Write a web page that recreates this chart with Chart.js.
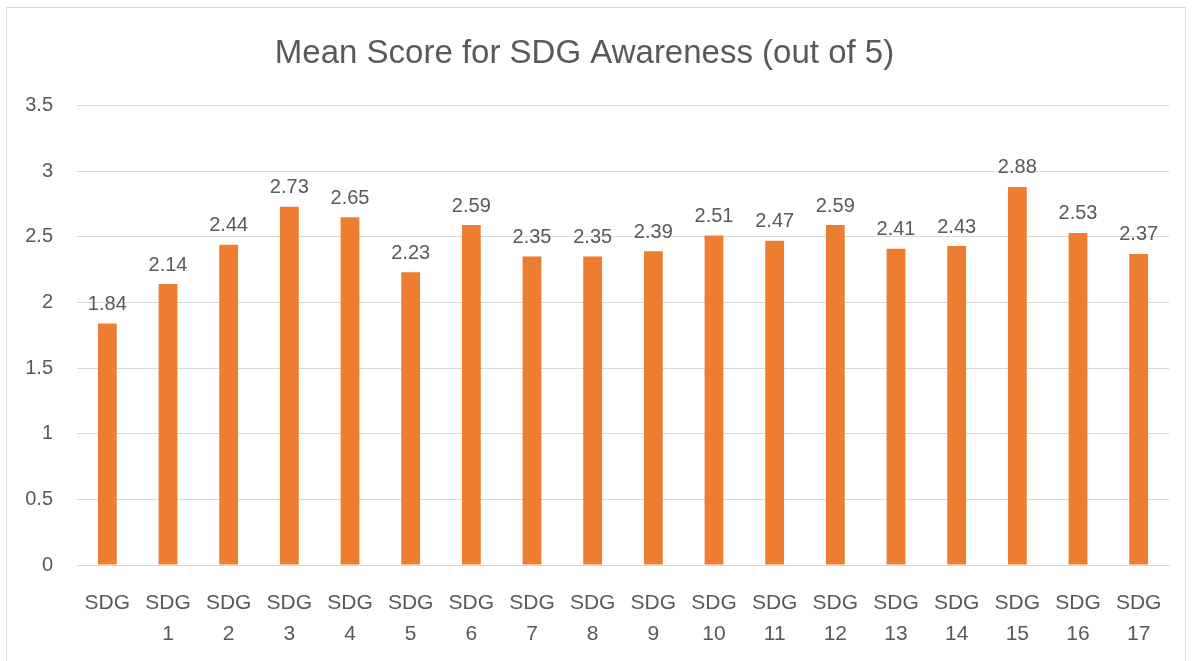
<!DOCTYPE html>
<html lang="en">
<head>
<meta charset="UTF-8">
<title>Mean Score for SDG Awareness</title>
<script src="https://cdn.jsdelivr.net/npm/chart.js"></script>
<style>
    body { margin: 0; background: #fff; }
    .frame {
        position: absolute; left: 6px; top: 7px; width: 1180px; height: 670px;
        border: 1px solid #d9d9d9; box-sizing: border-box;
    }
    #myChart { position: absolute; left: 0; top: 0; }
</style>
</head>
<body>
<div class="frame"></div>
<canvas id="myChart" width="1192" height="661"></canvas>

<script>
    // dados
    const categorias = ['SDG', 'SDG 1', 'SDG 2', 'SDG 3', 'SDG 4', 'SDG 5', 'SDG 6', 'SDG 7', 'SDG 8',
        'SDG 9', 'SDG 10', 'SDG 11', 'SDG 12', 'SDG 13', 'SDG 14', 'SDG 15', 'SDG 16', 'SDG 17'];
    const medias = [1.84, 2.14, 2.44, 2.73, 2.65, 2.23, 2.59, 2.35, 2.35, 2.39, 2.51, 2.47, 2.59, 2.41, 2.43, 2.88, 2.53, 2.37];
    const yTicks = [0, 0.5, 1, 1.5, 2, 2.5, 3, 3.5];

    const cinza = '#595959';
    const fonte = '"Liberation Sans", Arial, sans-serif';

    // escreve o valor em cima de cada barra
    const valoresNasBarras = {
        id: 'valoresNasBarras',
        afterDatasetsDraw(chart) {
            const ctx = chart.ctx;
            const meta = chart.getDatasetMeta(0);
            ctx.save();
            ctx.font = '20px ' + fonte;
            ctx.fillStyle = cinza;
            ctx.textAlign = 'center';
            ctx.textBaseline = 'bottom';
            meta.data.forEach((bar, i) => {
                ctx.fillText(medias[i].toFixed(2), bar.x, bar.y - 9);
            });
            ctx.restore();
        }
    };

    const myChart = new Chart(document.getElementById('myChart'), {
        type: 'bar',
        data: {
            labels: categorias.map(c => c.split(' ')),
            datasets: [{
                label: 'Mean score',
                data: medias,
                backgroundColor: '#ED7D31',
                barPercentage: 0.62,
                categoryPercentage: 0.5
            }]
        },
        options: {
            responsive: false,
            animation: false,
            layout: { padding: { left: 0, right: 23, top: 0, bottom: 0 } },
            plugins: {
                legend: { display: false },
                tooltip: { enabled: false },
                title: {
                    display: true,
                    text: 'Mean Score for SDG Awareness (out of 5)',
                    color: cinza,
                    font: { family: fonte, size: 33, weight: 'normal' },
                    padding: { top: 34, bottom: 32 }
                }
            },
            scales: {
                x: {
                    grid: { display: false, drawTicks: false },
                    border: { color: '#d9d9d9' },
                    ticks: {
                        color: cinza, padding: 22, maxRotation: 0, autoSkip: false,
                        font: { family: fonte, size: 21, lineHeight: 1.5 }
                    },
                    afterFit(scale) { scale.height = 96; }
                },
                y: {
                    min: 0,
                    max: 3.5,
                    afterBuildTicks(scale) { scale.ticks = yTicks.map(v => ({ value: v })); },
                    grid: { color: '#d9d9d9', drawTicks: false },
                    border: { display: false },
                    ticks: {
                        color: cinza, padding: 24,
                        font: { family: fonte, size: 20 },
                        callback: v => String(v)
                    },
                    afterFit(scale) { scale.width = 77; }
                }
            }
        },
        plugins: [valoresNasBarras]
    });
</script>
</body>
</html>
